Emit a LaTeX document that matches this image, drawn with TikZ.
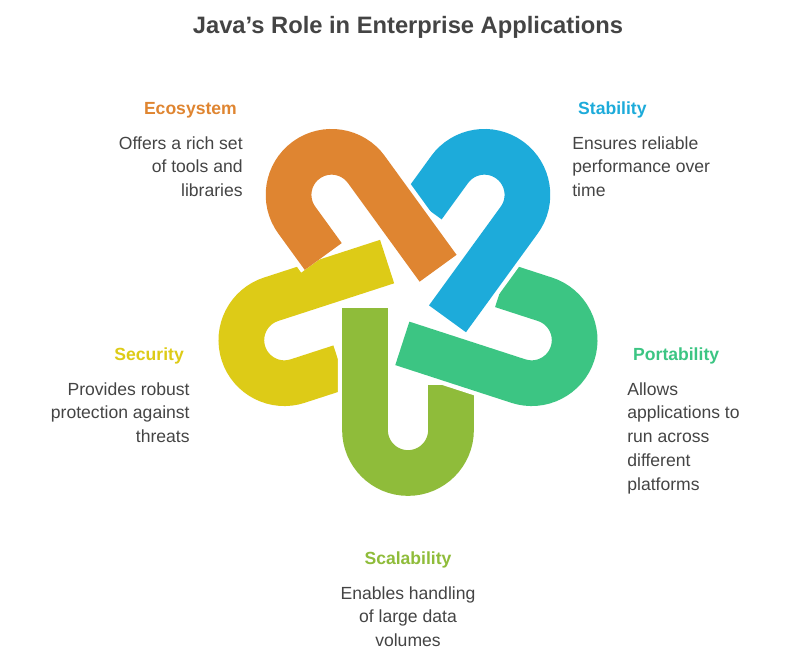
\documentclass[tikz,border=0pt]{standalone}
\usepackage{fontspec}
\setmainfont{Liberation Sans}
\usepackage{xcolor}
\usetikzlibrary{positioning,calc}

\definecolor{cOrange}{HTML}{DF8531}
\definecolor{cBlue}{HTML}{1DABDA}
\definecolor{cGreen}{HTML}{3CC583}
\definecolor{cOlive}{HTML}{8FBC3A}
\definecolor{cYellow}{HTML}{DDCB17}
\definecolor{cText}{HTML}{444444}

\newcommand{\hookpath}{(-43,-8) -- (-43,-130) arc (180:360:43) -- (43,-85)}

\begin{document}
\begin{tikzpicture}[
    x=0.02cm, y=0.02cm,
    title/.style={font=\fontsize{13.5}{16}\selectfont\bfseries, text=cText},
    head/.style={font=\fontsize{10}{13.6}\selectfont\bfseries},
    body/.style={font=\fontsize{10}{13.6}\selectfont, text=cText, inner sep=0pt},
    gap/.style={line width=31pt, white},
    band/.style={line width=26pt}
]
\useasboundingbox (0,0) rectangle (792,-659);

% Title
\node [title] (title) at (408,-27) {Java's Role in Enterprise Applications};

% Hooks
\foreach \ang/\col in {288/cYellow, 0/cOlive, 72/cGreen, 144/cBlue, 216/cOrange} {
  \begin{scope}[shift={(408,-300)}, rotate=\ang]
    \draw [gap] \hookpath;
    \draw [band, \col] \hookpath;
  \end{scope}
}

% Ecosystem
\node [head, text=cOrange, anchor=east] (ecoH) at (243,-110) {Ecosystem};
\node [body, align=right, anchor=north east] (ecoT) at (243,-136) {Offers a rich set\\of tools and\\libraries};

% Stability
\node [head, text=cBlue, anchor=west] (staH) at (572,-110) {Stability};
\node [body, align=left, anchor=north west] (staT) at (572,-136) {Ensures reliable\\performance over\\time};

% Security
\node [head, text=cYellow, anchor=east] (secH) at (190,-356) {Security};
\node [body, align=right, anchor=north east] (secT) at (190,-382) {Provides robust\\protection against\\threats};

% Portability
\node [head, text=cGreen, anchor=west] (porH) at (627,-356) {Portability};
\node [body, align=left, anchor=north west] (porT) at (627,-382) {Allows\\applications to\\run across\\different\\platforms};

% Scalability
\node [head, text=cOlive] (scaH) at (408,-560) {Scalability};
\node [body, align=center, anchor=north] (scaT) at (408,-586) {Enables handling\\of large data\\volumes};

\end{tikzpicture}
\end{document}
